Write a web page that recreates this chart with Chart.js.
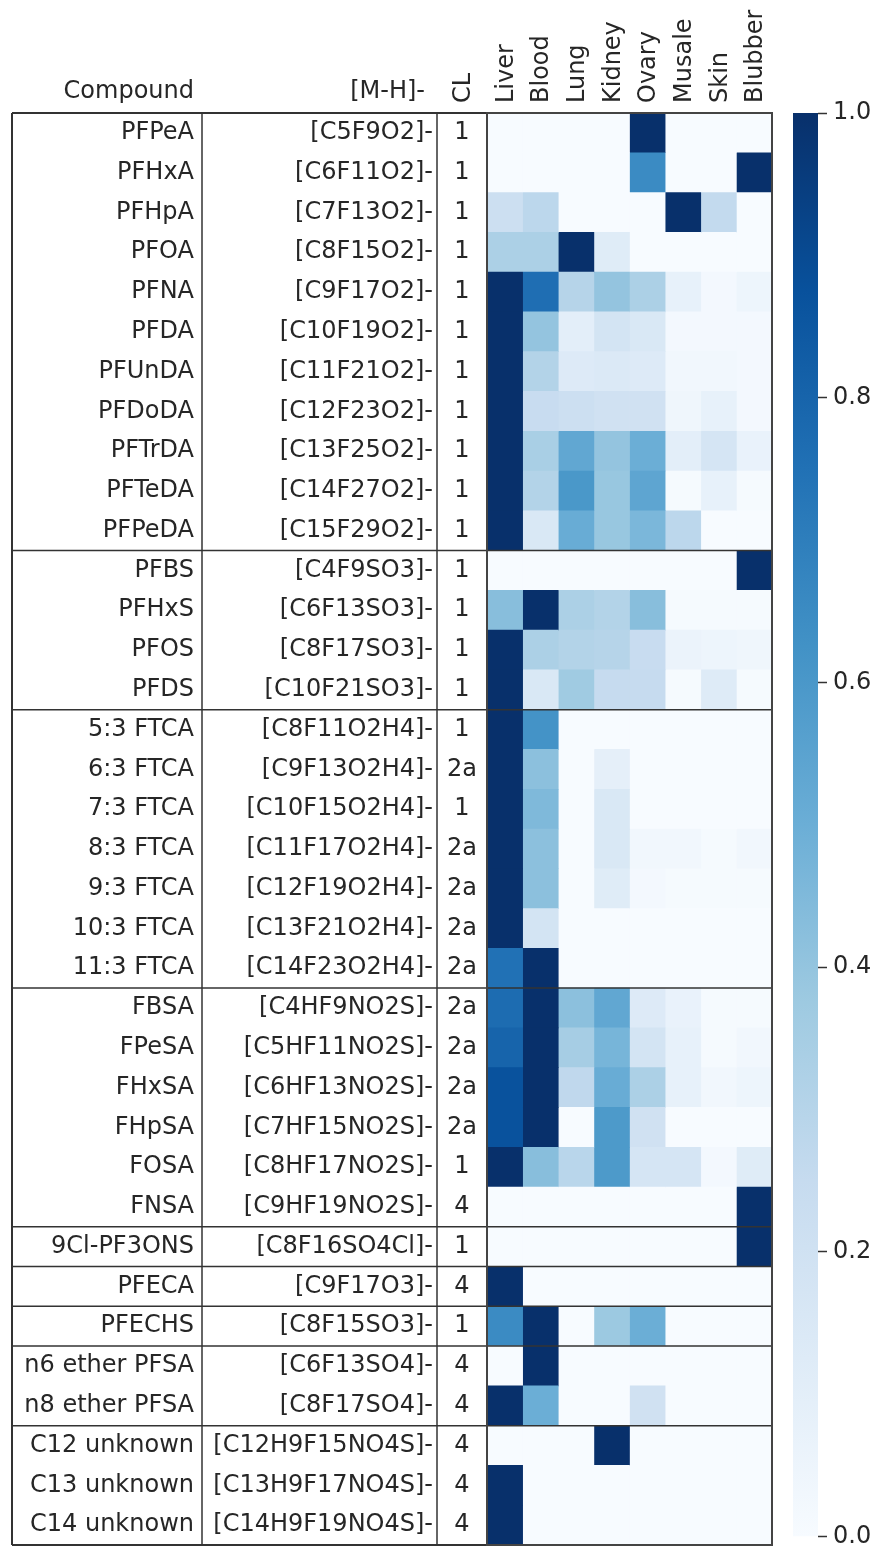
<!DOCTYPE html>
<html>
<head>
<meta charset="utf-8">
<script src="https://cdn.jsdelivr.net/npm/chart.js@4"></script>
<style>
  html, body { margin: 0; padding: 0; background: #fff; }
  #wrap { position: relative; width: 880px; height: 1557px; }
  #heat { position: absolute; left: 0; top: 0; }
  #bar { position: absolute; left: 780px; top: 0; }
</style>
</head>
<body>
<div id="wrap">
  <canvas id="heat" width="790" height="1557"></canvas>
  <canvas id="bar" width="100" height="1557"></canvas>
</div>
<script>
// ===== Data =====
const compounds = ['PFPeA','PFHxA','PFHpA','PFOA','PFNA','PFDA','PFUnDA','PFDoDA','PFTrDA','PFTeDA','PFPeDA',
  'PFBS','PFHxS','PFOS','PFDS',
  '5:3 FTCA','6:3 FTCA','7:3 FTCA','8:3 FTCA','9:3 FTCA','10:3 FTCA','11:3 FTCA',
  'FBSA','FPeSA','FHxSA','FHpSA','FOSA','FNSA',
  '9Cl-PF3ONS','PFECA','PFECHS','n6 ether PFSA','n8 ether PFSA',
  'C12 unknown','C13 unknown','C14 unknown'];
const formulas = ['[C5F9O2]-','[C6F11O2]-','[C7F13O2]-','[C8F15O2]-','[C9F17O2]-','[C10F19O2]-','[C11F21O2]-','[C12F23O2]-','[C13F25O2]-','[C14F27O2]-','[C15F29O2]-',
  '[C4F9SO3]-','[C6F13SO3]-','[C8F17SO3]-','[C10F21SO3]-',
  '[C8F11O2H4]-','[C9F13O2H4]-','[C10F15O2H4]-','[C11F17O2H4]-','[C12F19O2H4]-','[C13F21O2H4]-','[C14F23O2H4]-',
  '[C4HF9NO2S]-','[C5HF11NO2S]-','[C6HF13NO2S]-','[C7HF15NO2S]-','[C8HF17NO2S]-','[C9HF19NO2S]-',
  '[C8F16SO4Cl]-','[C9F17O3]-','[C8F15SO3]-','[C6F13SO4]-','[C8F17SO4]-',
  '[C12H9F15NO4S]-','[C13H9F17NO4S]-','[C14H9F19NO4S]-'];
const confidence = ['1','1','1','1','1','1','1','1','1','1','1',
  '1','1','1','1',
  '1','2a','1','2a','2a','2a','2a',
  '2a','2a','2a','2a','1','4',
  '1','4','1','4','4',
  '4','4','4'];
// row index after which a group line is drawn
const groupEnds = [11, 15, 22, 28, 29, 30, 31, 33];

const tissues = ['Liver','Blood','Lung','Kidney','Ovary','Musale','Skin','Blubber'];
const liver   = [0,0,0.22,0.33,1,1,1,1,1,1,1, 0,0.43,1,1, 1,1,1,1,1,1,0.75, 0.77,0.8,0.87,0.87,1,0, 0,1,0.65,0,1, 0,1,1];
const blood   = [0,0,0.28,0.33,0.76,0.4,0.31,0.24,0.34,0.31,0.15, 0,1,0.33,0.15, 0.62,0.42,0.45,0.42,0.42,0.18,1, 1,1,1,1,0.43,0, 0,0,1,1,0.5, 0,0,0];
const lung    = [0,0,0,1,0.3,0.1,0.13,0.22,0.53,0.6,0.51, 0,0.33,0.31,0.37, 0,0,0,0,0,0,0, 0.42,0.35,0.27,0,0.29,0, 0,0,0,0,0, 0,0,0];
const kidney  = [0,0,0,0.12,0.4,0.18,0.14,0.2,0.4,0.39,0.39, 0,0.31,0.3,0.25, 0,0.09,0.15,0.15,0.12,0,0, 0.53,0.47,0.51,0.59,0.59,0, 0,0,0.38,0,0, 1,0,0];
const ovary   = [1,0.65,0,0,0.33,0.15,0.13,0.2,0.5,0.54,0.46, 0,0.43,0.24,0.25, 0,0,0,0.03,0.02,0,0, 0.13,0.18,0.33,0.2,0.17,0, 0,0,0.5,0,0.2, 0,0,0];
const musale  = [0,0,1,0,0.08,0.02,0.03,0.04,0.1,0.01,0.28, 0,0.01,0.06,0.01, 0,0,0,0.03,0.01,0,0, 0.07,0.08,0.08,0,0.17,0, 0,0,0,0,0, 0,0,0];
const skin    = [0,0,0.26,0,0.02,0.02,0.03,0.08,0.17,0.08,0, 0,0.01,0.05,0.125, 0,0,0,0.01,0.01,0,0, 0.01,0.01,0.03,0,0.02,0, 0,0,0,0,0, 0,0,0];
const blubber = [0,1,0,0,0.05,0.02,0.02,0.02,0.07,0.01,0, 1,0.01,0.04,0.01, 0,0,0,0.03,0.01,0,0, 0.01,0.03,0.05,0,0.12,1, 1,0,0,0,0, 0,0,0];
const columns = [liver, blood, lung, kidney, ovary, musale, skin, blubber];

const colorTicks = [0, 0.2, 0.4, 0.6, 0.8, 1.0];

// ===== Blues colour map =====
const bluesStops = ['#f7fbff','#deebf7','#c6dbef','#9ecae1','#6baed6','#4292c6','#2171b5','#08519c','#08306b'];
function hexToRgb(h) { return [1, 3, 5].map(i => parseInt(h.substr(i, 2), 16)); }
const bluesRgb = bluesStops.map(hexToRgb);
function blues(v) {
  const t = Math.max(0, Math.min(1, v)) * 8;
  const i = Math.min(7, Math.floor(t));
  const f = t - i;
  const a = bluesRgb[i], b = bluesRgb[i + 1];
  const c = a.map((x, k) => Math.round(x + (b[k] - x) * f));
  return `rgb(${c[0]},${c[1]},${c[2]})`;
}

const FONT = '"DejaVu Sans", sans-serif';
const TEXT = '#262626';

// ===== Table text + lines drawn on the heatmap chart =====
const tablePlugin = {
  id: 'tablePlugin',
  afterDraw(chart) {
    const ctx = chart.ctx;
    const xs = chart.scales.x, ys = chart.scales.y;
    const area = chart.chartArea;
    const rowH = ys.getPixelForValue(1) - ys.getPixelForValue(0);
    const edge = i => ys.getPixelForValue(i) - rowH / 2;

    ctx.save();
    ctx.fillStyle = TEXT;
    ctx.font = '24px ' + FONT;
    ctx.textBaseline = 'middle';
    compounds.forEach((name, i) => {
      const y = ys.getPixelForValue(i);
      ctx.textAlign = 'right';
      ctx.fillText(name, 194, y);
      ctx.fillText(formulas[i], 433, y);
      ctx.textAlign = 'center';
      ctx.fillText(confidence[i], 462, y);
    });

    // headers
    ctx.textBaseline = 'alphabetic';
    ctx.textAlign = 'right';
    ctx.fillText('Compound', 194, 98);
    ctx.fillText('[M-H]-', 425, 98);
    const rotated = (txt, x) => {
      ctx.save();
      ctx.translate(x + 8, 103);
      ctx.rotate(-Math.PI / 2);
      ctx.textAlign = 'left';
      ctx.fillText(txt, 0, 0);
      ctx.restore();
    };
    rotated('CL', 462);
    tissues.forEach((t, c) => rotated(t, xs.getPixelForValue(c + 0.5)));

    // lines
    const line = (x1, y1, x2, y2) => { ctx.beginPath(); ctx.moveTo(x1, y1); ctx.lineTo(x2, y2); ctx.stroke(); };
    ctx.strokeStyle = '#333';
    ctx.lineWidth = 1.5;
    groupEnds.forEach(k => line(12, edge(k), area.right, edge(k)));
    line(202, area.top, 202, area.bottom);
    line(437, area.top, 437, area.bottom);
    ctx.lineWidth = 2;
    line(12, area.top, area.right, area.top);
    line(12, area.bottom, area.right, area.bottom);
    line(12, area.top, 12, area.bottom);
    ctx.strokeStyle = '#444';
    ctx.strokeRect(area.left, area.top, area.right - area.left, area.bottom - area.top);
    ctx.restore();
  }
};

// ===== Heatmap =====
const heatDatasets = tissues.map((t, c) => ({
  label: t,
  data: compounds.map(() => [c, c + 1]),
  backgroundColor: columns[c].map(blues),
  borderWidth: 0,
  barPercentage: 1,
  categoryPercentage: 1,
  grouped: false
}));

new Chart(document.getElementById('heat'), {
  type: 'bar',
  data: { labels: compounds, datasets: heatDatasets },
  options: {
    indexAxis: 'y',
    responsive: false,
    animation: false,
    layout: { padding: { left: 487, top: 113, right: 18, bottom: 12 } },
    plugins: { legend: { display: false }, tooltip: { enabled: false } },
    scales: {
      x: { type: 'linear', min: 0, max: tissues.length, display: false },
      y: { type: 'category', display: false }
    }
  },
  plugins: [tablePlugin]
});

// ===== Colour bar =====
new Chart(document.getElementById('bar'), {
  type: 'bar',
  data: {
    labels: [''],
    datasets: [{
      data: [[0, 1]],
      backgroundColor: (c) => {
        const a = c.chart.chartArea;
        if (!a) return bluesStops[0];
        const g = c.chart.ctx.createLinearGradient(0, a.bottom, 0, a.top);
        bluesStops.forEach((col, i) => g.addColorStop(i / 8, col));
        return g;
      },
      borderWidth: 0,
      barPercentage: 1,
      categoryPercentage: 1
    }]
  },
  options: {
    responsive: false,
    animation: false,
    layout: { padding: { left: 13, top: 113, right: 0, bottom: 12 } },
    plugins: { legend: { display: false }, tooltip: { enabled: false } },
    scales: {
      x: { display: false },
      y: {
        position: 'right',
        min: 0, max: 1,
        afterBuildTicks: s => { s.ticks = colorTicks.map(v => ({ value: v })); },
        afterFit: s => { s.width = 62; },
        ticks: { callback: v => v.toFixed(1), color: TEXT, font: { size: 24, family: FONT }, padding: 6 },
        grid: { drawOnChartArea: false, tickLength: 9, color: '#333', tickWidth: 1.5 },
        border: { display: false }
      }
    }
  }
});
</script>
</body>
</html>
